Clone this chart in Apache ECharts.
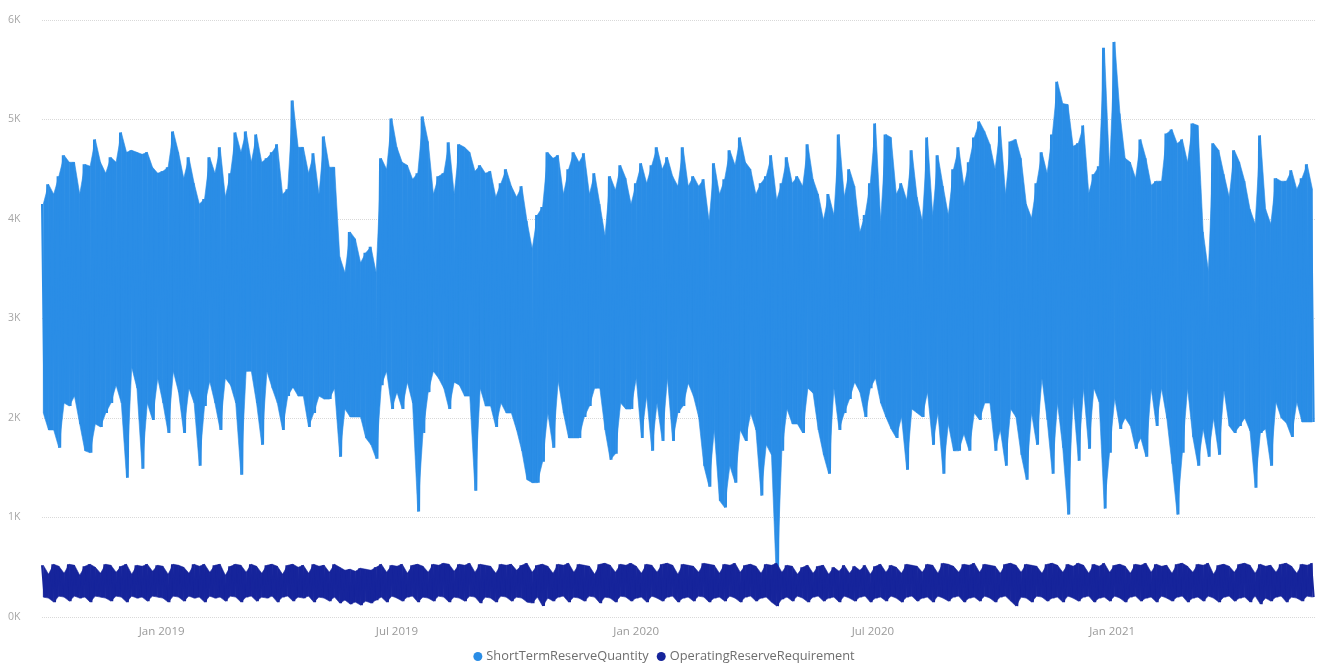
<!DOCTYPE html>
<html><head><meta charset="utf-8">
<script src="https://cdn.jsdelivr.net/npm/echarts@6/dist/echarts.min.js"></script>
<style>html,body{margin:0;padding:0;background:#fff}#c{width:1328px;height:664px}</style>
</head><body><div id="c"></div>
<script>
// Start of the series and width of each sampled bucket (days)
const startDate = [2018, 9, 1];
const endDate = [2021, 5, 6];
const bucketDays = 4;

// ShortTermReserveQuantity: highest / lowest value seen in each bucket
const stqHigh = [
4150,4350,4250,4430,4640,4570,4570,4250,4550,4530,
4800,4570,4460,4620,4570,4870,4670,4690,4670,4650,
4670,4520,4460,4480,4520,4880,4670,4410,4620,4360,
4150,4200,4620,4460,4720,4220,4460,4870,4670,4880,
4570,4850,4570,4610,4670,4750,4250,4300,5190,4720,
4720,4460,4660,4250,4830,4520,4520,3620,3460,3870,
3800,3560,3660,3720,3460,4610,4500,5010,4720,4570,
4540,4400,4460,5030,4780,4250,4430,4460,4770,4250,
4750,4720,4670,4480,4540,4460,4480,4220,4360,4500,
4330,4220,4330,3980,3700,4040,4120,4670,4610,4640,
4250,4500,4670,4570,4660,4250,4460,4150,3830,4430,
4290,4540,4410,4150,4360,4560,4360,4540,4720,4500,
4620,4430,4330,4720,4330,4430,4330,4400,3980,4560,
4250,4400,4690,4540,4820,4570,4500,4250,4360,4430,
4640,4190,4360,4620,4360,4430,4330,4750,4400,4250,
3990,4250,4040,4850,4220,4500,4330,3870,4040,4360,
4960,3980,4850,4820,4250,4360,4190,4690,4220,3980,
4820,4040,4640,4330,4040,4500,4720,4330,4570,4820,
4980,4880,4750,4500,4930,4250,4780,4800,4610,4150,
4010,4360,4670,4460,4850,5380,5160,5150,4730,4760,
4940,4260,4450,4530,5720,4490,5780,5060,4610,4570,
4410,4800,4610,4340,4380,4380,4860,4900,4760,4800,
4570,4960,4940,3870,3480,4760,4690,4450,4220,4690,
4570,4380,4100,3950,4840,4100,3950,4410,4380,4380,
4490,4300,4410,4550,4300
];
const stqLow = [
2050,1880,1880,1700,2150,2120,2220,1940,1670,1650,
1940,1910,2050,2150,2330,2150,1400,2510,2300,1490,
2150,1980,2400,2150,1850,2470,2260,1850,2300,2150,
1520,2120,2370,2150,1880,2400,2330,2150,1430,2470,
2470,2150,1730,2470,2300,2150,1880,2220,2310,2220,
2220,1910,2050,2220,2190,2190,2300,1610,2090,2010,
2010,2010,1800,1730,1590,2330,2470,2090,2260,2090,
2360,2150,1060,1850,2260,2470,2400,2300,2090,2360,
2330,2220,2220,1270,2300,2120,2120,1910,2150,2050,
2050,1880,1670,1380,1350,1350,1560,2050,1700,2370,
2050,1800,1800,1800,2010,2120,2300,2300,1880,1580,
1640,2150,2090,2090,2400,1800,2220,1670,2150,1770,
2400,1770,2050,2120,2350,2220,2010,1520,1310,1880,
1170,1100,1520,1350,1880,1770,2050,1880,1220,1730,
1630,300,1670,2090,1940,1940,1850,2300,2250,1880,
1630,1440,2300,1880,2050,2190,2360,2260,2010,2300,
2400,2150,2010,1890,1800,2010,1480,2090,2050,2010,
2260,1730,2050,1440,1940,1670,1670,1840,1670,2050,
1980,2150,2150,1670,1880,1520,2090,2010,1630,1380,
2050,1730,2400,1980,1440,2150,1700,1030,2200,1570,
2300,1690,2300,2160,1090,1650,2200,1890,2000,1920,
1690,1800,1610,2300,1920,2300,2000,1540,1030,1650,
2300,1810,1520,1890,1610,2000,1630,2280,1920,1850,
1920,2000,1870,1300,1850,1890,1520,2160,2000,1950,
1810,2160,1960,1960,1960
];

// OperatingReserveRequirement: highest / lowest value seen in each bucket
const orrHigh = [
520,430,530,510,440,530,520,420,510,530,
500,440,530,520,450,510,530,430,520,510,
530,460,520,510,430,530,520,500,440,530,
510,530,450,520,530,420,510,530,520,450,
530,510,440,520,530,510,430,520,530,500,
520,440,530,510,520,450,530,500,470,480,
460,490,480,470,500,530,450,520,510,530,
440,520,530,510,450,530,520,540,530,460,
530,520,540,450,530,520,510,440,530,520,
530,470,520,540,450,520,530,510,440,530,
520,540,450,530,520,510,430,530,540,520,
450,530,520,540,510,440,530,520,450,530,
540,520,430,530,520,510,450,540,530,520,
440,530,520,540,450,520,530,510,440,530,
520,540,450,520,510,430,500,520,440,510,
520,430,500,460,520,440,510,470,520,430,
510,530,450,520,500,440,530,520,510,450,
530,520,440,540,530,510,450,530,520,540,
450,530,520,510,440,530,540,520,450,530,
520,510,440,530,540,520,450,530,510,540,
520,440,530,510,540,450,520,530,510,440,
530,520,540,450,530,510,520,440,530,540,
510,450,530,520,540,430,520,530,510,450,
530,540,520,440,530,510,520,450,530,540,
510,440,530,520,540
];
const orrLow = [
200,190,150,210,200,160,210,190,200,150,
210,200,190,160,210,200,150,210,190,200,
160,210,200,190,150,210,200,160,210,190,
200,150,210,190,200,160,210,200,150,200,
210,160,200,190,210,150,200,210,160,200,
190,210,150,200,190,160,200,140,170,130,
150,120,160,140,170,200,150,210,190,160,
200,210,150,200,190,160,210,200,150,200,
190,160,210,200,140,200,190,150,210,200,
160,200,190,150,140,200,110,190,160,200,
210,150,200,190,160,210,200,140,200,190,
150,210,200,160,190,200,150,210,190,160,
200,210,150,190,200,160,210,200,150,190,
200,160,210,190,150,200,210,160,190,200,
150,110,180,200,160,210,190,150,200,210,
160,190,200,150,210,190,160,200,210,150,
190,200,160,210,190,150,200,210,160,190,
200,150,210,190,160,200,210,150,190,200,
160,210,190,150,200,210,160,110,200,190,
150,210,200,160,190,200,150,210,190,160,
200,210,150,190,200,160,210,190,150,200,
210,160,190,200,150,210,190,160,200,210,
150,190,200,160,210,190,150,200,210,160,
190,200,150,210,130,190,160,200,210,150,
200,190,160,210,200
];

// Axis ticks
const xTickDates = [[2019,0,1],[2019,6,1],[2020,0,1],[2020,6,1],[2021,0,1]];
const xTickLabels = ['Jan 2019','Jul 2019','Jan 2020','Jul 2020','Jan 2021'];
const yMax = 6000, yStep = 1000;

const DAY = 86400000;
const ts = a => Date.UTC(a[0], a[1], a[2]);
const t0 = ts(startDate);
// zig-zag through each bucket's high and low
function zig(high, low) {
  const out = [];
  for (let i = 0; i < high.length; i++) {
    out.push([t0 + i * bucketDays * DAY, high[i]]);
    out.push([t0 + (i * bucketDays + bucketDays / 2) * DAY, low[i]]);
  }
  return out;
}
// band pieces between consecutive buckets: [tA, lowA, highA, tB, lowB, highB]
function bandPieces(high, low) {
  const out = [];
  for (let i = 0; i < high.length - 1; i++) {
    out.push([t0 + (i * bucketDays + 1) * DAY, low[i], high[i],
              t0 + ((i + 1) * bucketDays + 1) * DAY, low[i + 1], high[i + 1]]);
  }
  return out;
}

const tickTs = xTickDates.map(ts);
const FONT = '"Open Sans", "Noto Sans", sans-serif';
const C1 = '#2a8de6', C2 = '#16249b';

function bandSeries(name, high, low, color, z) {
  return {
    name: name, type: 'custom', silent: true, z: z,
    data: bandPieces(high, low),
    encode: {x: [0, 3], y: [1, 2, 4, 5]},
    renderItem: function (params, api) {
      const a = api.coord([api.value(0), api.value(1)]);
      const b = api.coord([api.value(0), api.value(2)]);
      const c = api.coord([api.value(3), api.value(5)]);
      const d = api.coord([api.value(3), api.value(4)]);
      return {type: 'polygon', shape: {points: [a, b, c, d]},
              style: {fill: color, stroke: color, lineWidth: 0.6}};
    }
  };
}

const chart = echarts.init(document.getElementById('c'), null, {renderer: 'canvas'});
chart.setOption({
  animation: false,
  backgroundColor: '#ffffff',
  grid: {left: 42, right: 13, top: 20, bottom: 47},
  legend: {
    top: 645, left: 'center', icon: 'circle', itemWidth: 9, itemHeight: 9, itemGap: 8,
    textStyle: {color: '#6e6e6e', fontSize: 12.8, fontFamily: FONT, padding: [0, 0, 0, -1]},
    data: ['ShortTermReserveQuantity', 'OperatingReserveRequirement']
  },
  xAxis: {
    type: 'value', min: t0, max: ts(endDate), scale: true,
    axisLine: {show: false}, axisTick: {show: false}, splitLine: {show: false},
    axisLabel: {
      customValues: tickTs, color: '#9a9a9a', fontSize: 11.5, fontFamily: FONT, margin: 9,
      formatter: function (v) {
        for (let k = 0; k < tickTs.length; k++) if (Math.abs(v - tickTs[k]) < DAY) return xTickLabels[k];
        return '';
      }
    }
  },
  yAxis: {
    type: 'value', min: 0, max: yMax, interval: yStep,
    axisLine: {show: false}, axisTick: {show: false},
    axisLabel: {formatter: v => (v / 1000) + 'K', align: 'left', margin: 34, color: '#a6a6a6', fontSize: 10.5, fontFamily: FONT},
    splitLine: {lineStyle: {type: 'dotted', color: '#d9d9d9', width: 1}}
  },
  series: [
    bandSeries('stqBand', stqHigh, stqLow, C1, 1),
    {name: 'ShortTermReserveQuantity', type: 'line', data: zig(stqHigh, stqLow), showSymbol: false, symbol: 'none',
     lineStyle: {width: 2, color: C1}, itemStyle: {color: C1}, z: 2},
    bandSeries('orrBand', orrHigh, orrLow, C2, 3),
    {name: 'OperatingReserveRequirement', type: 'line', data: zig(orrHigh, orrLow), showSymbol: false, symbol: 'none',
     lineStyle: {width: 2, color: C2}, itemStyle: {color: C2}, z: 4}
  ]
});
</script></body></html>
